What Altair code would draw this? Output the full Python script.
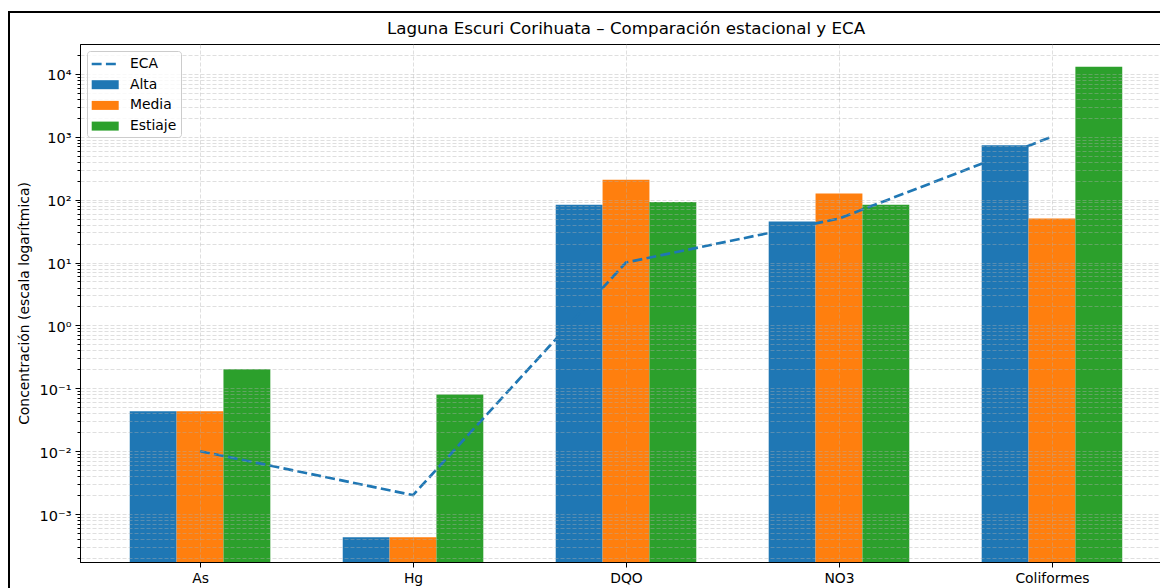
import json
import altair as alt
import pandas as pd

# ---------------- data ----------------
categorias = ["As", "Hg", "DQO", "NO3", "Coliformes"]
temporadas = ["Alta", "Media", "Estiaje"]
valores_alta = [0.043, 0.00043, 83, 45, 730]
valores_media = [0.043, 0.00043, 207, 125, 50]
valores_estiaje = [0.2, 0.08, 92, 83, 13000]
valores_eca = [0.01, 0.002, 10, 50, 1000]
serie_eca = "ECA"
colores = ["#1f77b4", "#1f77b4", "#ff7f0e", "#2ca02c"]
exponentes_y = [-3, -2, -1, 0, 1, 2, 3, 4]
etiquetas_y = ["10⁻³", "10⁻²", "10⁻¹", "10⁰", "10¹", "10²", "10³", "10⁴"]
titulo = "Laguna Escuri Corihuata – Comparación estacional y ECA"
titulo_y = "Concentración (escala logarítmica)"

# ---------------- layout constants ----------------
Y_DOM = [1.73e-4, 2.98e4]
X_DOM = [-0.5636, 4.5636]
ANCHO_BARRA = 0.22
W, H = 1092, 518
FONT = "DejaVu Sans"
FS = 13.9

series = [valores_alta, valores_media, valores_estiaje]
rows = []
for j, (t, vals) in enumerate(zip(temporadas, series)):
    for i, v in enumerate(vals):
        rows.append({"idx": i, "temporada": t, "pos": j - 1, "valor": v, "base": Y_DOM[0]})
barras_df = pd.DataFrame(rows)
eca_df = pd.DataFrame({"idx": list(range(len(categorias))), "valor": valores_eca})

ticks_y = []
for e in range(-4, 5):
    for m in range(1, 10):
        v = float(f"{m}e{e}")
        if Y_DOM[0] <= v <= Y_DOM[1]:
            ticks_y.append(v)

lg = "log(datum.value)/LN10"
es_mayor = f"abs({lg} - round({lg})) < 1e-6"
label_y = (
    f"({es_mayor}) ? {json.dumps(etiquetas_y, ensure_ascii=False)}"
    f"[round({lg}) - ({exponentes_y[0]})] : ''"
)
label_x = f"{json.dumps(categorias, ensure_ascii=False)}[round(datum.value)]"

grid_style = dict(
    grid=True,
    gridColor="#b0b0b0",
    gridOpacity=0.5,
    gridDash=[4, 2],
    gridWidth=0.8,
    tickColor="black",
    tickWidth=1,
    domainColor="black",
    domainWidth=1,
    labelColor="black",
    labelFont=FONT,
    zindex=1,
)

eje_x = alt.Axis(
    values=list(range(len(categorias))),
    labelExpr=label_x,
    labelFontSize=FS,
    title=None,
    tickSize=5,
    labelPadding=4,
    labelFlush=False,
    **grid_style,
)
eje_y = alt.Axis(
    values=ticks_y,
    labelExpr=label_y,
    labelFontSize=14.5,
    labelOffset=2,
    tickSize={"condition": {"test": es_mayor, "value": 5}, "value": 3},
    labelPadding=4,
    labelOverlap=False,
    labelFlush=False,
    title=titulo_y,
    titleFont=FONT,
    titleFontSize=FS,
    titleFontWeight="normal",
    titleColor="black",
    titleAngle=-90,
    titleAlign="center",
    titleBaseline="alphabetic",
    titleX=-52,
    titleY=H / 2,
    **grid_style,
)

xs = alt.Scale(domain=X_DOM, nice=False, zero=False)
ys = alt.Scale(type="log", domain=Y_DOM, nice=False)

forma_rect = "M-1.5,-0.5H1.5V0.5H-1.5Z"
forma_eca = "M-1.5,-0.15H-0.4V0.15H-1.5Z M0.08,-0.15H1.18V0.15H0.08Z"

leyenda = alt.Legend(
    title=None,
    orient="none",
    legendX=7,
    legendY=7,
    symbolType=alt.ExprRef(expr=f"datum.value == '{serie_eca}' ? '{forma_eca}' : '{forma_rect}'"),
    symbolSize=324,
    symbolOffset=5.2,
    symbolStrokeWidth=0,
    labelFont=FONT,
    labelFontSize=FS,
    labelColor="black",
    labelOffset=15.8,
    rowPadding=4.7,
    padding=4,
    fillColor="rgba(255,255,255,0.8)",
    strokeColor="#cccccc",
    cornerRadius=3,
    zindex=2,
)

barras = (
    alt.Chart(barras_df)
    .transform_calculate(
        x0=f"datum.idx + datum.pos*{ANCHO_BARRA} - {ANCHO_BARRA / 2}",
        x1=f"datum.idx + datum.pos*{ANCHO_BARRA} + {ANCHO_BARRA / 2}",
    )
    .mark_bar(opacity=1)
    .encode(
        x=alt.X("x0:Q", scale=xs, axis=eje_x),
        x2="x1:Q",
        y=alt.Y("valor:Q", scale=ys, axis=eje_y),
        y2="base:Q",
        color=alt.Color(
            "temporada:N",
            scale=alt.Scale(domain=[serie_eca] + temporadas, range=colores),
            legend=leyenda,
        ),
    )
)

linea = (
    alt.Chart(eca_df)
    .mark_line(strokeDash=[9.9, 4.3], strokeWidth=2.67, color="#1f77b4")
    .encode(
        x=alt.X("idx:Q", scale=xs, axis=eje_x),
        y=alt.Y("valor:Q", scale=ys, axis=eje_y),
    )
)

marco = alt.Data(values=[{"k": 1}])
borde_izq = alt.Chart(marco).mark_rule(color="black", strokeWidth=2).encode(
    x=alt.value(-71), y=alt.value(-32), y2=alt.value(H + 40)
)
borde_sup = alt.Chart(marco).mark_rule(color="black", strokeWidth=2).encode(
    x=alt.value(-72), x2=alt.value(W + 10), y=alt.value(-32)
)

chart = (
    alt.layer(barras, linea, borde_izq, borde_sup)
    .properties(
        width=W,
        height=H,
        title=alt.TitleParams(
            titulo,
            font=FONT,
            fontSize=16.7,
            fontWeight="normal",
            color="black",
            anchor="middle",
            frame="group",
            baseline="alphabetic",
            offset=-40,
        ),
        padding={"left": 72, "top": 36, "right": -12, "bottom": 26},
        autosize=alt.AutoSizeParams(type="none"),
    )
    .configure(font=FONT, background="white")
    .configure_view(stroke="black", strokeWidth=1)
)

chart.save("out.html", embed_options={"renderer": "svg", "actions": False})
